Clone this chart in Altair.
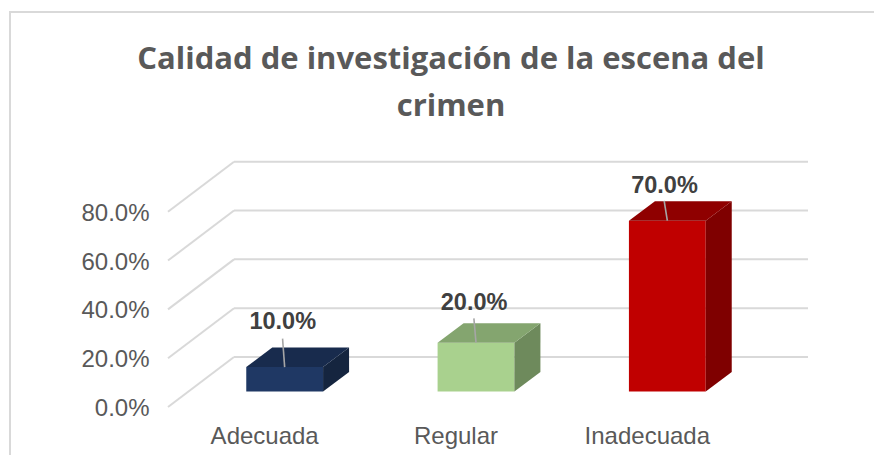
import altair as alt
import pandas as pd

categories = ["Adecuada", "Regular", "Inadecuada"]
values = [10.0, 20.0, 70.0]
colors_front = ["#1F3864", "#A9D18E", "#C00000"]
colors_top = ["#182B4D", "#84A56F", "#8F0000"]
colors_side = ["#15253F", "#6E8A5C", "#7F0000"]
grid_values = [0, 20, 40, 60, 80]
title_lines = ["Calidad de investigación de la escena del", "crimen"]
label_heights = [34.7, 42.5, 90.6]
label_shift = [-0.01, -0.01, -0.015]
leader_tops = [28.0, 36.3, 84.5]

PX_X = 191.3
PX_Y = 2.44
XDOM = [-0.5, 2.845]
YDOM = [0, 100.8]
W = 640
H = 246
WALL_X, WALL_Y = 66 / PX_X, 50 / PX_Y
BASE_X, BASE_Y = 21 / PX_X, 15.5 / PX_Y
HALF = 38.4 / PX_X
DEPTH_X, DEPTH_Y = 26 / PX_X, 19.5 / PX_Y
FONT = "Liberation Sans"

x_s = alt.Scale(domain=XDOM, nice=False, zero=False)
y_s = alt.Scale(domain=YDOM, nice=False, zero=False)
y_axis = alt.Axis(
    values=grid_values, labelExpr="format(datum.value/100,'.1%')",
    title=None, domain=False, ticks=False, grid=False,
    labelFont=FONT, labelFontSize=24, labelColor="#595959", labelPadding=19, labelOffset=1.5)
X = lambda f: alt.X(f, type="quantitative", scale=x_s, axis=None)
Y = lambda f: alt.Y(f, type="quantitative", scale=y_s, axis=y_axis)

grid_color = "#D9D9D9"
wall_rows, back_rows, front_rows, side_rows, top_rows = [], [], [], [], []
for g in grid_values:
    wall_rows.append({"x": XDOM[0], "x2": XDOM[0] + WALL_X, "y": g, "y2": g + WALL_Y})
    back_rows.append({"x": XDOM[0] + WALL_X, "x2": XDOM[1], "y": g + WALL_Y})

for i, (v, cf, ct, cs) in enumerate(zip(values, colors_front, colors_top, colors_side)):
    l, r = i + BASE_X - HALF, i + BASE_X + HALF
    b, t = BASE_Y, BASE_Y + v
    front_rows.append({"x": l, "x2": r, "y": b, "y2": t, "c": cf})
    side_rows += [
        {"x": r, "y": b, "y2": t, "c": cs, "k": i},
        {"x": r + DEPTH_X, "y": b + DEPTH_Y, "y2": t + DEPTH_Y, "c": cs, "k": i},
    ]
    top_rows += [
        {"y": t, "x": l, "x2": r, "c": ct, "k": i},
        {"y": t + DEPTH_Y, "x": l + DEPTH_X, "x2": r + DEPTH_X, "c": ct, "k": i},
    ]

leaders = pd.DataFrame({
    "x": [i + BASE_X for i in range(3)],
    "x2": [i + BASE_X + s * 1.1 for i, s in zip(range(3), label_shift)],
    "y": [BASE_Y + v for v in values],
    "y2": leader_tops,
})
labels = pd.DataFrame({
    "x": [i + BASE_X + s for i, s in zip(range(3), label_shift)],
    "y": label_heights,
    "t": [f"{v:.1f}%" for v in values],
})
cats = pd.DataFrame({"x": list(range(3)), "y": [0, 0, 0], "t": categories})

color_identity = alt.Color("c:N", scale=None)

wall_lines = alt.layer(*[
    alt.Chart(pd.DataFrame({"x": [r["x"], r["x2"]], "y": [r["y"], r["y2"]]}))
    .mark_line(color=grid_color, strokeWidth=2).encode(x=X("x"), y=Y("y"))
    for r in wall_rows
])
back_lines = alt.Chart(pd.DataFrame(back_rows)).mark_rule(color=grid_color, strokeWidth=2).encode(
    x=X("x"), x2="x2:Q", y=Y("y"))
front = alt.Chart(pd.DataFrame(front_rows)).mark_rect().encode(
    x=X("x"), x2="x2:Q", y=Y("y"), y2="y2:Q", color=color_identity)
side = alt.Chart(pd.DataFrame(side_rows)).mark_area(orient="vertical").encode(
    x=X("x"), y=Y("y"), y2="y2:Q", color=color_identity, detail="k:N")
top = alt.Chart(pd.DataFrame(top_rows)).mark_area(orient="horizontal").encode(
    y=Y("y"), x=X("x"), x2="x2:Q", color=color_identity, detail="k:N")
leader = alt.Chart(leaders).mark_rule(color="#A6A6A6", strokeWidth=1.6).encode(
    x=X("x"), x2="x2:Q", y=Y("y"), y2="y2:Q")
label = alt.Chart(labels).mark_text(font=FONT, fontSize=23.5, fontWeight="bold", color="#404040").encode(
    x=X("x"), y=Y("y"), text="t:N")
cat = alt.Chart(cats).mark_text(font=FONT, fontSize=24, color="#595959", baseline="middle", dy=30, dx=1).encode(
    x=X("x"), y=Y("y"), text="t:N")
border = alt.Chart(pd.DataFrame({"a": [0]})).mark_rect(fill=None, stroke="#D9D9D9", strokeWidth=2).encode(
    x=alt.value(-158), x2=alt.value(760), y=alt.value(-149), y2=alt.value(340))
title1 = alt.Chart(pd.DataFrame({"t": [title_lines[0]]})).mark_text(
    font="Open Sans", fontSize=31, fontWeight="bold", color="#595959", align="center", baseline="middle"
).encode(x=alt.value(283), y=alt.value(-101), text="t:N")
title2 = alt.Chart(pd.DataFrame({"t": [title_lines[1]]})).mark_text(
    font="Open Sans", fontSize=31, fontWeight="bold", color="#595959", align="center", baseline="middle"
).encode(x=alt.value(283), y=alt.value(-54), text="t:N")

chart = alt.layer(border, wall_lines, back_lines, front, side, top, leader, label, cat, title1, title2).properties(
    width=W, height=H,
    padding={"left": 160, "top": 153, "right": 66, "bottom": 48},
    autosize=alt.AutoSizeParams(type="none"),
).configure_view(stroke=None)

chart.save("out.html", embed_options={"renderer": "svg", "actions": False})
